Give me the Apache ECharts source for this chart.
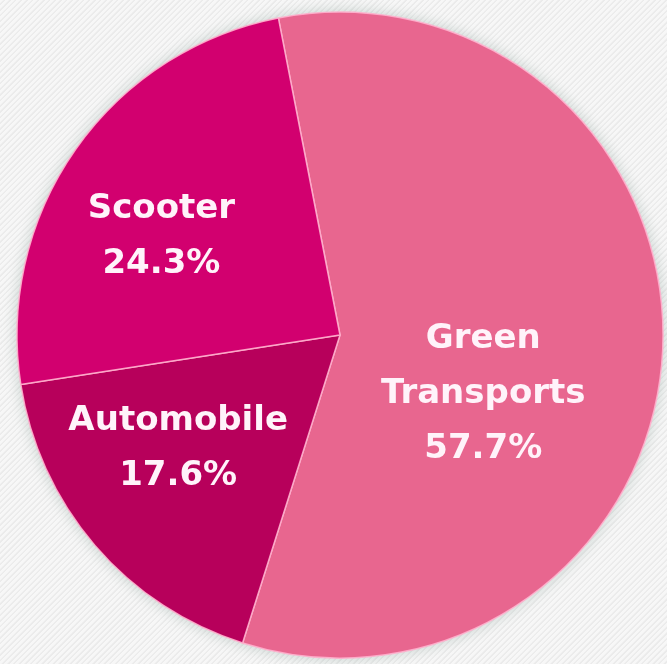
<!DOCTYPE html>
<html>
<head>
<meta charset="utf-8">
<script src="https://cdn.jsdelivr.net/npm/echarts@6/dist/echarts.min.js"></script>
<style>
  html, body { margin: 0; padding: 0; }
  body {
    width: 667px; height: 664px; overflow: hidden;
    background: repeating-linear-gradient(135deg, #f7f7f7 0px, #f7f7f7 2px, #ebebeb 3px, #ebebeb 4px);
  }
  #pie { width: 667px; height: 664px; filter: drop-shadow(0 0 7px rgba(110,140,130,0.35)); }
</style>
</head>
<body>
<div id="pie"></div>
<script>
  // 数据
  var categories = ['Green\nTransports', 'Automobile', 'Scooter'];
  var shares = [57.7, 17.6, 24.3];
  var colors = ['#e8668f', '#b7005b', '#d2006f'];
  // 标签微调
  var labelShift = [[-21, 50], [-37, 7], [-44, -4]];

  var pieData = [];
  for (var i = 0; i < categories.length; i++) {
    pieData.push({ name: categories[i], value: shares[i], itemStyle: { color: colors[i] } });
  }

  var myChart = echarts.init(document.getElementById('pie'), null, { renderer: 'canvas' });
  var option = {
    backgroundColor: 'transparent',
    animation: false,
    series: [
      {
        type: 'pie',
        center: [340, 335],
        radius: [0, 323],
        startAngle: 101,
        clockwise: true,
        data: pieData,
        itemStyle: {
          borderColor: 'rgba(255,176,205,0.9)',
          borderWidth: 1.5
        },
        label: {
          show: true,
          position: 'inside',
          formatter: function (p) { return p.name + '\n' + p.value.toFixed(1) + '%'; },
          color: '#fff3fa',
          fontFamily: 'DejaVu Sans',
          fontWeight: 'bold',
          fontSize: 34,
          lineHeight: 55,
          align: 'center'
        },
        labelLine: { show: false },
        labelLayout: function (p) {
          return { dx: labelShift[p.dataIndex][0], dy: labelShift[p.dataIndex][1] };
        }
      }
    ]
  };
  myChart.setOption(option);
</script>
</body>
</html>
